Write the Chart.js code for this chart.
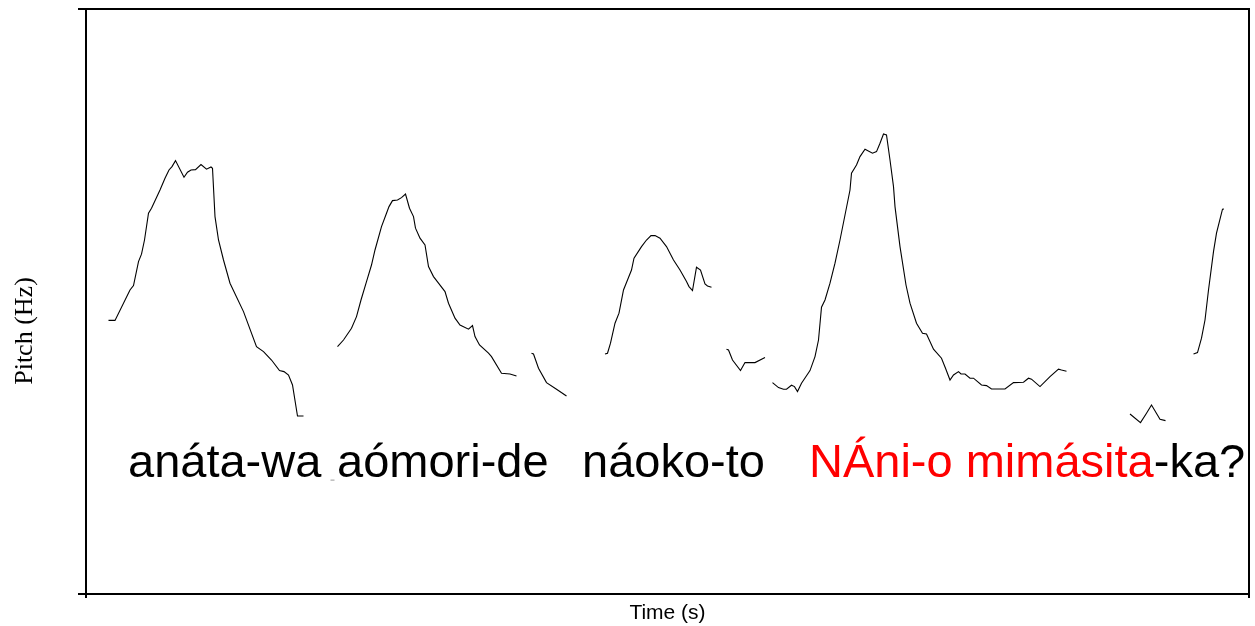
<!DOCTYPE html>
<html lang="ja">
<head>
  <meta charset="UTF-8">
  <title>Pitch contour</title>
  <script src="https://cdn.jsdelivr.net/npm/chart.js"></script>
  <style>
    body { margin: 0; background: #fff; }
    #pitchChart { display: block; }
  </style>
</head>
<body>
  <canvas id="pitchChart" width="1255" height="626"></canvas>

  <script>
    // axis ranges (time in s, pitch in Hz)
    const timeRange = [0, 2.326]
    const pitchRange = [50, 342.5]

    // pitch track, one pair of arrays per voiced stretch
    const timeA = [0.045, 0.058, 0.088, 0.095, 0.105, 0.111, 0.117, 0.125, 0.131, 0.148, 0.158, 0.166, 0.172, 0.179, 0.196, 0.203, 0.210, 0.219, 0.230, 0.241, 0.250, 0.253, 0.258, 0.265, 0.275, 0.288, 0.315, 0.341, 0.355, 0.371, 0.387, 0.396, 0.405, 0.413, 0.423, 0.435]
    const pitchA = [186.8, 186.8, 202, 204.2, 216.2, 219.9, 227, 240.4, 242.9, 252, 257.9, 262, 263.7, 266.7, 258.4, 260.9, 262, 262.2, 264.7, 262.4, 263.5, 262.9, 238.7, 227, 217, 205.4, 191.2, 173.7, 171.2, 167, 161.7, 161.2, 159.5, 154.5, 139, 139]

    const timeB = [0.503, 0.515, 0.531, 0.541, 0.550, 0.561, 0.571, 0.578, 0.591, 0.601, 0.606, 0.613, 0.623, 0.631, 0.639, 0.647, 0.655, 0.659, 0.668, 0.678, 0.685, 0.695, 0.705, 0.718, 0.725, 0.738, 0.748, 0.765, 0.773, 0.778, 0.787, 0.805, 0.811, 0.831, 0.848, 0.861]
    const pitchB = [173.7, 177, 182.9, 188.7, 197, 206.2, 214.5, 222, 233.7, 240.4, 243.7, 246.7, 247, 248.2, 250, 242.9, 238.7, 232.9, 227.9, 224.5, 213.7, 208.7, 205.4, 201.2, 195.4, 187.9, 184.5, 182.4, 184.2, 178.7, 174.5, 170.4, 168.7, 160.4, 160, 159]

    const timeC = [0.891, 0.895, 0.905, 0.921, 0.941, 0.961]
    const pitchC = [170.4, 170, 162.9, 155.7, 152.4, 149]

    const timeD = [1.038, 1.043, 1.049, 1.058, 1.066, 1.075, 1.083, 1.091, 1.096, 1.111, 1.121, 1.130, 1.138, 1.148, 1.161, 1.175, 1.188, 1.201, 1.206, 1.213, 1.221, 1.229, 1.238, 1.243, 1.251]
    const pitchD = [170, 170.4, 175.4, 185.4, 190.4, 202, 207, 212, 217.9, 223.7, 227, 229.2, 229.2, 227.9, 223.7, 217, 212, 206.2, 203.7, 201.7, 213.4, 212, 205, 204, 203.4]

    const timeE = [1.281, 1.285, 1.293, 1.309, 1.318, 1.338, 1.358]
    const pitchE = [172.4, 172, 167, 161.7, 165.7, 165.7, 168.2]

    const timeF = [1.373, 1.385, 1.395, 1.401, 1.411, 1.417, 1.423, 1.431, 1.448, 1.458, 1.465, 1.471, 1.478, 1.488, 1.498, 1.508, 1.518, 1.528, 1.531, 1.541, 1.548, 1.558, 1.573, 1.581, 1.588, 1.595, 1.601, 1.608, 1.615, 1.618, 1.628, 1.640, 1.648, 1.661, 1.673, 1.681, 1.695, 1.711, 1.719, 1.728, 1.735, 1.745, 1.750, 1.758, 1.768, 1.775, 1.791, 1.801, 1.811, 1.838, 1.855, 1.875, 1.885, 1.891, 1.908, 1.928, 1.945, 1.951, 1.961]
    const pitchF = [155.7, 153.2, 152.4, 152.4, 154.4, 153.7, 151.2, 155.4, 161.7, 168.7, 177, 193.4, 197, 205.4, 215.4, 227, 239.5, 252, 260.4, 264.5, 268.7, 272.4, 270.4, 271.2, 275.4, 280, 279.5, 267, 253.7, 243.7, 223.7, 204.5, 195.4, 185.4, 180.4, 180, 172.4, 167.9, 162.9, 157, 159.5, 161.2, 160, 160, 157.9, 157.9, 154.5, 154.2, 152.5, 152.5, 155.7, 155.9, 157.9, 157.4, 153.7, 158.7, 162.4, 162, 161.4]

    const timeG = [2.088, 2.109, 2.121, 2.131, 2.148, 2.159]
    const pitchG = [140, 135.7, 140.4, 144.5, 137.4, 136.7]

    const timeH = [2.215, 2.223, 2.231, 2.238, 2.245, 2.255, 2.261, 2.273, 2.276]
    const pitchH = [170, 170.7, 177.9, 187, 202, 221.2, 230.4, 242.4, 242.5]

    // transcription under the contour: text, start time, colour
    const words = ['anáta-wa', 'aómori-de', 'náoko-to', 'NÁni-o mimásita', '-ka?']
    const wordStart = [0.084, 0.502, 0.992, 1.446, null]   // null = right after previous word
    const wordColor = ['#000000', '#000000', '#000000', '#ff0000', '#000000']
    const wordBaseline = 108.7   // Hz

    const tracks = [
      [timeA, pitchA], [timeB, pitchB], [timeC, pitchC], [timeD, pitchD],
      [timeE, pitchE], [timeF, pitchF], [timeG, pitchG], [timeH, pitchH]
    ]

    const datasets = tracks.map(function (tr) {
      return {
        data: tr[0].map(function (t, i) { return { x: t, y: tr[1][i] } }),
        borderColor: '#000000',
        borderWidth: 1.1,
        pointRadius: 0,
        tension: 0,
        fill: false
      }
    })

    // only keep the two end ticks of each axis
    function endTicks(axis) {
      axis.ticks = [{ value: axis.min }, { value: axis.max }]
    }

    // box top + right, y title (sits a bit below centre), and the words
    const frameAndText = {
      id: 'frameAndText',
      afterDraw: function (chart) {
        const ctx = chart.ctx
        const a = chart.chartArea
        const xs = chart.scales.x
        const ys = chart.scales.y
        ctx.save()
        ctx.strokeStyle = '#000'
        ctx.lineWidth = 2
        ctx.beginPath()
        ctx.moveTo(a.left - 1, a.top)
        ctx.lineTo(a.right, a.top)
        ctx.lineTo(a.right, a.bottom)
        ctx.stroke()

        ctx.save()
        ctx.translate(25, 331)
        ctx.rotate(-Math.PI / 2)
        ctx.font = '26px "Liberation Serif", "Times New Roman", serif'
        ctx.fillStyle = '#000'
        ctx.textAlign = 'center'
        ctx.textBaseline = 'middle'
        ctx.fillText('Pitch (Hz)', 0, 0)
        ctx.restore()

        ctx.font = '47px "Liberation Sans", Arial, sans-serif'
        ctx.textBaseline = 'alphabetic'
        ctx.textAlign = 'left'
        const by = ys.getPixelForValue(wordBaseline)
        let x = 0
        for (let i = 0; i < words.length; i++) {
          if (wordStart[i] !== null) x = xs.getPixelForValue(wordStart[i])
          ctx.fillStyle = wordColor[i]
          ctx.fillText(words[i], x, by)
          x += ctx.measureText(words[i]).width
        }
        // stray little mark between the first two words
        ctx.fillStyle = '#999'
        ctx.fillRect(xs.getPixelForValue(0.489), by + 3, 4, 1)
        ctx.restore()
      }
    }

    const config = {
      type: 'line',
      data: { datasets: datasets },
      options: {
        responsive: false,
        animation: false,
        layout: { padding: { top: 9, right: 6, left: 0, bottom: 0 } },
        plugins: { legend: { display: false }, tooltip: { enabled: false } },
        scales: {
          x: {
            type: 'linear',
            min: timeRange[0],
            max: timeRange[1],
            afterBuildTicks: endTicks,
            afterFit: function (s) { s.height = 32 },
            ticks: { display: false },
            grid: { drawOnChartArea: false, color: '#000', lineWidth: 2, tickLength: 4 },
            border: { color: '#000', width: 2 },
            title: {
              display: true,
              text: 'Time (s)',
              color: '#000',
              font: { family: '"Liberation Sans", Arial, sans-serif', size: 21 },
              padding: 0
            }
          },
          y: {
            type: 'linear',
            min: pitchRange[0],
            max: pitchRange[1],
            afterBuildTicks: endTicks,
            afterFit: function (s) { s.width = 86 },
            ticks: { display: false },
            grid: { drawOnChartArea: false, color: '#000', lineWidth: 2, tickLength: 8 },
            border: { color: '#000', width: 2 },
            title: { display: false }
          }
        }
      },
      plugins: [frameAndText]
    }

    const pitchChart = new Chart(document.getElementById('pitchChart'), config)
  </script>
</body>
</html>
